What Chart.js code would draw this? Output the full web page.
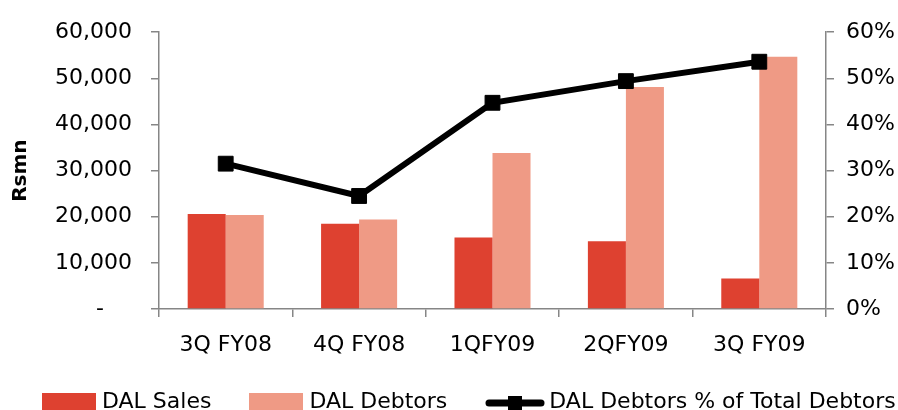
<!DOCTYPE html>
<html>
<head>
<meta charset="utf-8">
<script src="https://cdn.jsdelivr.net/npm/chart.js@4.4.0/dist/chart.umd.min.js"></script>
<style>
  html, body { margin: 0; padding: 0; background: #fff; overflow: hidden; }
  #wrap { position: relative; width: 898px; height: 410px; }
  #legend {
    position: absolute; left: 42px; top: 388px;
    display: flex; align-items: flex-start;
    font: 22px "DejaVu Sans", sans-serif; color: #000; white-space: nowrap;
  }
  #legend .item { display: flex; align-items: flex-start; margin-right: 38px; }
  #legend canvas { margin-top: 5px; margin-right: 6px; }
  #legend .item.line canvas { margin-right: 4px; }
</style>
</head>
<body>
<div id="wrap">
  <canvas id="debtorsChart"></canvas>
  <div id="legend"></div>
</div>
<script>
// values
const quarters = ['3Q FY08', '4Q FY08', '1QFY09', '2QFY09', '3Q FY09'];
const dalSales = [20600, 18500, 15500, 14700, 6600];
const dalDebtors = [20400, 19400, 33800, 48100, 54700];
const debtorsShare = [31.5, 24.5, 44.7, 49.4, 53.6]; // % of total debtors

const salesColor = '#DE4130';
const debtorsColor = '#EF9A85';
const axisColor = '#868686';

Chart.defaults.font.family = '"DejaVu Sans", sans-serif';
Chart.defaults.color = '#000';

// legend swatches drawn as small canvases
function boxSwatch(color) {
  const c = document.createElement('canvas');
  c.width = 54;
  c.height = 20;
  const g = c.getContext('2d');
  g.fillStyle = color;
  g.fillRect(0, 0, 54, 20);
  return c;
}

function lineSwatch() {
  const c = document.createElement('canvas');
  c.width = 60;
  c.height = 20;
  const g = c.getContext('2d');
  g.strokeStyle = '#000';
  g.lineWidth = 7;
  g.lineCap = 'round';
  g.beginPath();
  g.moveTo(4, 10);
  g.lineTo(56, 10);
  g.stroke();
  g.fillStyle = '#000';
  g.fillRect(23, 3, 14, 14);
  return c;
}

const ctx = document.getElementById('debtorsChart').getContext('2d');
const chart = new Chart(ctx, {
  type: 'bar',
  data: {
    labels: quarters,
    datasets: [
      {
        label: 'DAL Sales',
        data: dalSales,
        backgroundColor: salesColor,
        yAxisID: 'y',
        order: 1,
        categoryPercentage: 0.57,
        barPercentage: 1,
      },
      {
        label: 'DAL Debtors',
        data: dalDebtors,
        backgroundColor: debtorsColor,
        yAxisID: 'y',
        order: 1,
        categoryPercentage: 0.57,
        barPercentage: 1,
      },
      {
        type: 'line',
        label: 'DAL Debtors % of Total Debtors',
        data: debtorsShare,
        yAxisID: 'y2',
        order: 0,
        borderColor: '#000',
        backgroundColor: '#000',
        borderWidth: 6,
        tension: 0,
        pointStyle: 'rect',
        pointRadius: 10.5,
        pointBorderWidth: 1,
        pointBackgroundColor: '#000',
        pointBorderColor: '#000',
      },
    ],
  },
  options: {
    responsive: true,
    maintainAspectRatio: false,
    animation: false,
    layout: { padding: { top: 27, left: 0, right: 0, bottom: 41 } },
    plugins: {
      tooltip: { enabled: false },
      legend: { display: false },
    },
    scales: {
      x: {
        offset: true,
        grid: {
          offset: true,
          drawOnChartArea: false,
          tickLength: 8,
          color: axisColor,
          lineWidth: 1.5,
        },
        border: { color: axisColor, width: 1.5 },
        ticks: {
          color: '#000',
          font: { size: 22 },
          padding: 15,
          maxRotation: 0,
          autoSkip: false,
        },
        afterFit: (scale) => {
          scale.height = 60;
        },
      },
      y: {
        position: 'left',
        min: 0,
        max: 60000,
        grid: {
          drawOnChartArea: false,
          tickLength: 8,
          color: axisColor,
          lineWidth: 1.5,
        },
        border: { color: axisColor, width: 1.5 },
        ticks: {
          stepSize: 10000,
          padding: 19,
          color: '#000',
          font: { size: 22 },
          callback: (v) => (v === 0 ? '-\u2007\u2007' : v.toLocaleString('en-US')),
        },
        title: {
          display: true,
          text: 'Rsmn',
          color: '#000',
          font: { size: 20, weight: 'bold' },
          padding: { top: 9, bottom: 0 },
        },
        afterFit: (scale) => {
          scale.width = 159;
        },
      },
      y2: {
        position: 'right',
        min: 0,
        max: 60,
        grid: {
          drawOnChartArea: false,
          tickLength: 8,
          color: axisColor,
          lineWidth: 1.5,
        },
        border: { color: axisColor, width: 1.5 },
        ticks: {
          stepSize: 10,
          padding: 12,
          color: '#000',
          font: { size: 22 },
          callback: (v) => v + '%',
        },
        afterFit: (scale) => {
          scale.width = 72;
        },
      },
    },
  },
});

// build the legend from the chart's own datasets
const swatches = [boxSwatch(salesColor), boxSwatch(debtorsColor), lineSwatch()];
const legendEl = document.getElementById('legend');
chart.data.datasets.forEach((ds, i) => {
  const item = document.createElement('div');
  item.className = 'item' + (ds.type === 'line' ? ' line' : '');
  item.appendChild(swatches[i]);
  const txt = document.createElement('span');
  txt.textContent = ds.label;
  item.appendChild(txt);
  legendEl.appendChild(item);
});
</script>
</body>
</html>
